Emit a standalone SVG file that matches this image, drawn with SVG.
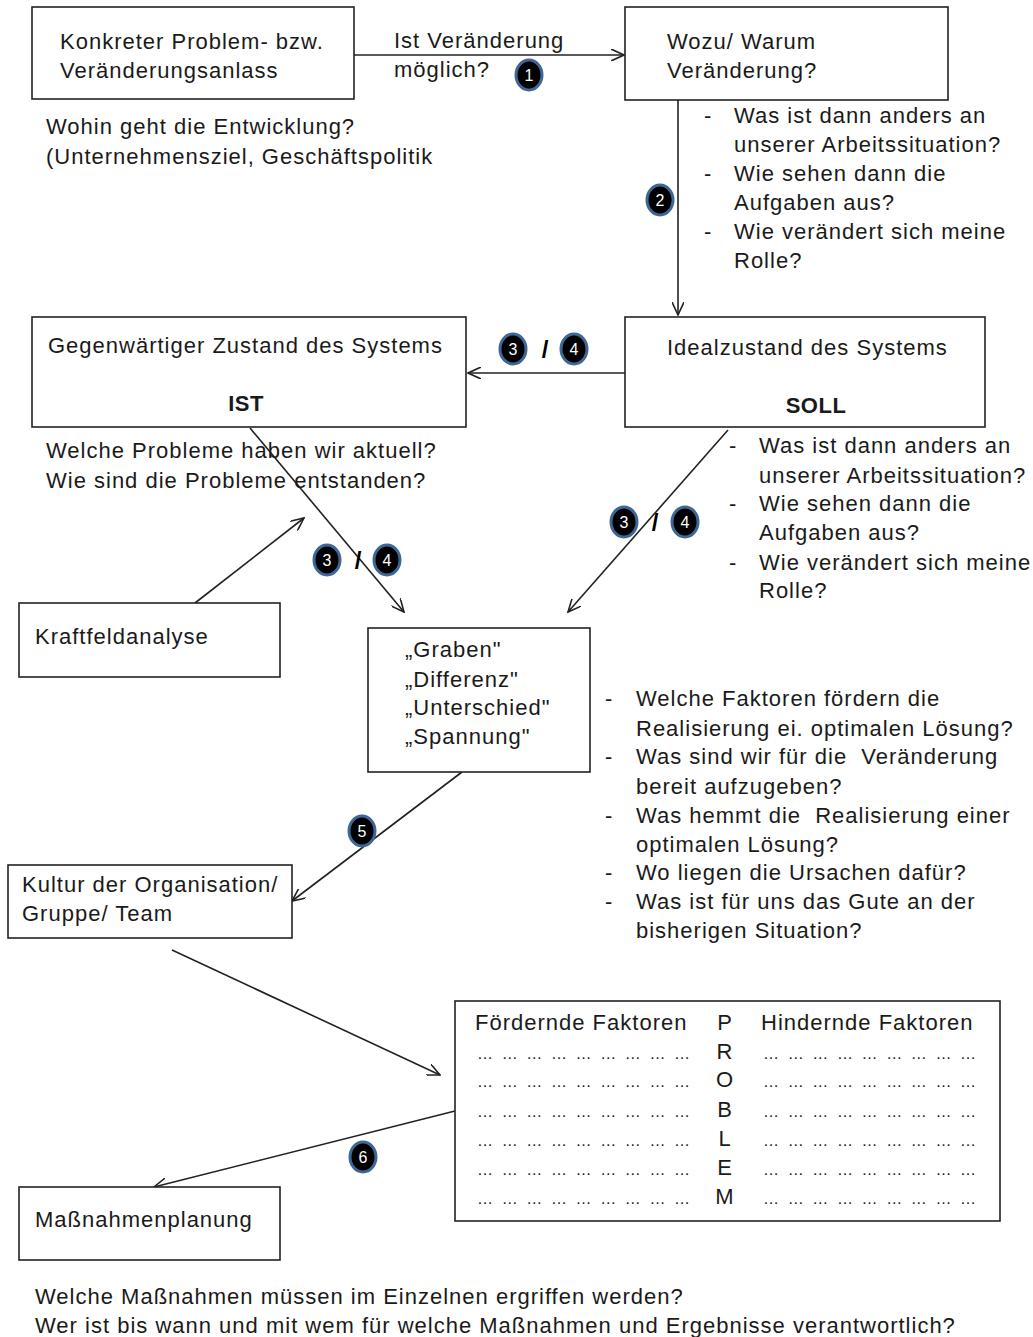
<svg xmlns="http://www.w3.org/2000/svg" width="1033" height="1337" viewBox="0 0 1033 1337">
<defs>
<style>
text{font-family:"Liberation Sans",Arial,sans-serif;font-size:22px;letter-spacing:1px;fill:#1a1a1a}
.b{font-weight:bold;letter-spacing:0.5px}
.pre{white-space:pre}
.box{fill:#fff;stroke:#222;stroke-width:1.6}
.con{stroke:#222;stroke-width:1.6;fill:none;marker-end:url(#ah)}
.nb{fill:#000;stroke:#3c6796;stroke-width:3}
.nt{fill:#fff;font-size:16px;letter-spacing:0;text-anchor:middle}
.sl{font-weight:bold;font-size:24px;letter-spacing:0;text-anchor:middle;fill:#000}
.dots{font-size:16px;letter-spacing:0}
</style>
<marker id="ah" viewBox="0 0 14 12" refX="13" refY="6" markerWidth="14" markerHeight="12" markerUnits="userSpaceOnUse" orient="auto">
<path d="M0,0 L13,6 L0,12" fill="none" stroke="#222" stroke-width="1.6"/>
</marker>
</defs>

<g id="connectors">
<line class="con" x1="354" y1="55" x2="624" y2="55"/>
<line class="con" x1="678" y1="100" x2="678" y2="315"/>
<line class="con" x1="625" y1="373" x2="468" y2="373"/>
<line class="con" x1="250" y1="428" x2="404" y2="612"/>
<line class="con" x1="728" y1="430" x2="568" y2="612"/>
<line class="con" x1="195" y1="603" x2="304" y2="518"/>
<line class="con" x1="462" y1="772" x2="292" y2="901"/>
<line class="con" x1="172" y1="950" x2="440" y2="1075"/>
<line class="con" x1="455" y1="1111" x2="154" y2="1187"/>
</g>

<g id="node-anlass">
<rect class="box" x="32" y="7" width="322" height="92"/>
<text x="60" y="49">Konkreter Problem- bzw.</text>
<text x="60" y="78">Veränderungsanlass</text>
</g>

<g id="node-wozu">
<rect class="box" x="625" y="7" width="323" height="93"/>
<text x="667" y="49">Wozu/ Warum</text>
<text x="667" y="78">Veränderung?</text>
</g>

<g id="label-1">
<text x="394" y="48">Ist Veränderung</text>
<text x="394" y="77">möglich?</text>
<ellipse class="nb" cx="529" cy="75" rx="13" ry="15"/>
<text class="nt" x="529" y="81">1</text>
</g>

<g id="text-wohin">
<text x="46" y="134">Wohin geht die Entwicklung?</text>
<text x="46" y="164">(Unternehmensziel, Geschäftspolitik</text>
</g>

<g id="label-2">
<ellipse class="nb" cx="660" cy="200" rx="13" ry="15"/>
<text class="nt" x="660" y="206">2</text>
</g>

<g id="list-wozu">
<text x="704" y="123">-</text><text x="734" y="123">Was ist dann anders an</text>
<text x="734" y="152">unserer Arbeitssituation?</text>
<text x="704" y="181">-</text><text x="734" y="181">Wie sehen dann die</text>
<text x="734" y="210">Aufgaben aus?</text>
<text x="704" y="239">-</text><text x="734" y="239">Wie verändert sich meine</text>
<text x="734" y="268">Rolle?</text>
</g>

<g id="node-ist">
<rect class="box" x="32" y="317" width="434" height="110"/>
<text x="48" y="353">Gegenwärtiger Zustand des Systems</text>
<text class="b" x="246" y="411" text-anchor="middle">IST</text>
</g>

<g id="node-soll">
<rect class="box" x="625" y="317" width="360" height="110"/>
<text x="667" y="355">Idealzustand des Systems</text>
<text class="b" x="816" y="413" text-anchor="middle">SOLL</text>
</g>

<g id="label-34-top">
<ellipse class="nb" cx="513" cy="349" rx="13" ry="15"/>
<text class="nt" x="513" y="355">3</text>
<text class="sl" x="545" y="358">/</text>
<ellipse class="nb" cx="574" cy="349" rx="13" ry="15"/>
<text class="nt" x="574" y="355">4</text>
</g>

<g id="text-ist">
<text x="46" y="458">Welche Probleme haben wir aktuell?</text>
<text x="46" y="488">Wie sind die Probleme entstanden?</text>
</g>

<g id="list-soll">
<text x="729" y="453">-</text><text x="759" y="453">Was ist dann anders an</text>
<text x="759" y="483">unserer Arbeitssituation?</text>
<text x="729" y="511">-</text><text x="759" y="511">Wie sehen dann die</text>
<text x="759" y="540">Aufgaben aus?</text>
<text x="729" y="570">-</text><text x="759" y="570">Wie verändert sich meine</text>
<text x="759" y="598">Rolle?</text>
</g>

<g id="label-34-right">
<ellipse class="nb" cx="624" cy="522" rx="13" ry="15"/>
<text class="nt" x="624" y="528">3</text>
<text class="sl" x="655" y="531">/</text>
<ellipse class="nb" cx="685" cy="522" rx="13" ry="15"/>
<text class="nt" x="685" y="528">4</text>
</g>

<g id="label-34-left">
<ellipse class="nb" cx="327" cy="560" rx="13" ry="15"/>
<text class="nt" x="327" y="566">3</text>
<text class="sl" x="358" y="569">/</text>
<ellipse class="nb" cx="387" cy="560" rx="13" ry="15"/>
<text class="nt" x="387" y="566">4</text>
</g>

<g id="node-kraft">
<rect class="box" x="19" y="603" width="261" height="74"/>
<text x="35" y="644">Kraftfeldanalyse</text>
</g>

<g id="node-graben">
<rect class="box" x="368" y="628" width="222" height="144"/>
<text x="405" y="657">„Graben"</text>
<text x="405" y="687">„Differenz"</text>
<text x="405" y="715">„Unterschied"</text>
<text x="405" y="744">„Spannung"</text>
</g>

<g id="list-faktoren">
<text x="605" y="706">-</text><text x="636" y="706">Welche Faktoren fördern die</text>
<text x="636" y="736">Realisierung ei. optimalen Lösung?</text>
<text x="605" y="764">-</text><text class="pre" x="636" y="764">Was sind wir für die  Veränderung</text>
<text x="636" y="794">bereit aufzugeben?</text>
<text x="605" y="823">-</text><text class="pre" x="636" y="823">Was hemmt die  Realisierung einer</text>
<text x="636" y="852">optimalen Lösung?</text>
<text x="605" y="880">-</text><text x="636" y="880">Wo liegen die Ursachen dafür?</text>
<text x="605" y="909">-</text><text x="636" y="909">Was ist für uns das Gute an der</text>
<text x="636" y="938">bisherigen Situation?</text>
</g>

<g id="label-5">
<ellipse class="nb" cx="362" cy="831" rx="13" ry="15"/>
<text class="nt" x="362" y="837">5</text>
</g>

<g id="node-kultur">
<rect class="box" x="8" y="865" width="284" height="73"/>
<text x="22" y="892">Kultur der Organisation/</text>
<text x="22" y="921">Gruppe/ Team</text>
</g>

<g id="node-tabelle">
<rect class="box" x="455" y="1001" width="545" height="220"/>
<text x="475" y="1030">Fördernde Faktoren</text>
<text x="761" y="1030">Hindernde Faktoren</text>
<g text-anchor="middle">
<text x="725" y="1030">P</text>
<text x="725" y="1059">R</text>
<text x="725" y="1087">O</text>
<text x="725" y="1117">B</text>
<text x="725" y="1146">L</text>
<text x="725" y="1175">E</text>
<text x="725" y="1204">M</text>
</g>
<g class="dots">
<text class="dots" x="477" y="1059" textLength="213" lengthAdjust="spacing">… … … … … … … … …</text>
<text class="dots" x="477" y="1087" textLength="213" lengthAdjust="spacing">… … … … … … … … …</text>
<text class="dots" x="477" y="1117" textLength="213" lengthAdjust="spacing">… … … … … … … … …</text>
<text class="dots" x="477" y="1146" textLength="213" lengthAdjust="spacing">… … … … … … … … …</text>
<text class="dots" x="477" y="1175" textLength="213" lengthAdjust="spacing">… … … … … … … … …</text>
<text class="dots" x="477" y="1204" textLength="213" lengthAdjust="spacing">… … … … … … … … …</text>
<text class="dots" x="763" y="1059" textLength="213" lengthAdjust="spacing">… … … … … … … … …</text>
<text class="dots" x="763" y="1087" textLength="213" lengthAdjust="spacing">… … … … … … … … …</text>
<text class="dots" x="763" y="1117" textLength="213" lengthAdjust="spacing">… … … … … … … … …</text>
<text class="dots" x="763" y="1146" textLength="213" lengthAdjust="spacing">… … … … … … … … …</text>
<text class="dots" x="763" y="1175" textLength="213" lengthAdjust="spacing">… … … … … … … … …</text>
<text class="dots" x="763" y="1204" textLength="213" lengthAdjust="spacing">… … … … … … … … …</text>
</g>
</g>

<g id="label-6">
<ellipse class="nb" cx="363" cy="1157" rx="13" ry="15"/>
<text class="nt" x="363" y="1163">6</text>
</g>

<g id="node-massnahmen">
<rect class="box" x="19" y="1187" width="261" height="73"/>
<text x="35" y="1227">Maßnahmenplanung</text>
</g>

<g id="text-bottom">
<text x="35" y="1304">Welche Maßnahmen müssen im Einzelnen ergriffen werden?</text>
<text x="35" y="1333">Wer ist bis wann und mit wem für welche Maßnahmen und Ergebnisse verantwortlich?</text>
</g>
</svg>
